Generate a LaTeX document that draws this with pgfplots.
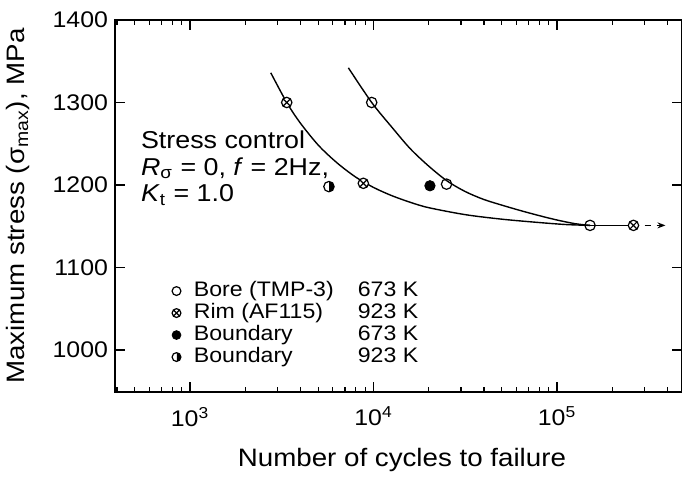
\documentclass[border=0pt]{standalone}
\usepackage{pgfplots}
\pgfplotsset{compat=1.18}
\usepackage{fontspec}
\setmainfont{Liberation Sans}[FakeStretch=1.1]
\usetikzlibrary{arrows.meta}
\begin{document}
\begin{tikzpicture}
\begin{axis}[
  scale only axis, width=283.5pt, height=186pt,
  xmode=log, xmin=390, xmax=4.8e5, ymin=949, ymax=1400,
  xtick={1e3,1e4,1e5},
  xticklabels={10\textsuperscript{3},10\textsuperscript{4},10\textsuperscript{5}},
  minor xtick={400,500,600,700,800,900,2000,3000,4000,5000,6000,7000,8000,9000,
    20000,30000,40000,50000,60000,70000,80000,90000,200000,300000,400000},
  ytick={1000,1100,1200,1300,1400},
  axis line style={line width=0.9pt},
  tick style={line width=0.6pt, black},
  major tick length=5pt, minor tick length=2.5pt,
  yticklabel style={/pgf/number format/assume math mode=true,
    /pgf/number format/1000 sep={}, font=\fontsize{11.3}{13}\selectfont},
  xticklabel style={font=\fontsize{11.3}{13}\selectfont},
  xticklabel shift=4pt,
  xlabel={Number of cycles to failure},
  ylabel={Maximum stress (σ\textsubscript{max}), MPa},
  xlabel style={at={(axis description cs:0.506,-0.183)}, anchor=center},
  ylabel style={at={(axis description cs:-0.171,0.5)}, anchor=center},
  label style={font=\fontsize{12.6}{15}\selectfont},
  legend style={at={(rel axis cs:0.1,0.302)}, anchor=north west,
    draw=none, fill=none, inner sep=0pt, row sep=0pt,
    font=\fontsize{10.5}{12}\selectfont,
    nodes={inner sep=0.5pt, text height=7.7pt, text depth=2.3pt},
    /tikz/every odd column/.append style={column sep=6pt}},
  legend cell align=left,
  legend image code/.code={\draw[#1, mark size=2.2pt] plot coordinates {(2.5pt,0pt)};},
]
% fitted curves
\addplot[forget plot, smooth, line width=0.7pt] coordinates {
  (2754,1336) (3365,1300) (3981,1275.4) (5012,1248) (6310,1227) (7943,1210)
  (10000,1197) (12589,1187) (15849,1179) (19953,1172.5) (31623,1164)
  (50119,1158.5) (79433,1154.5) (112202,1152) (151356,1151)};
\addplot[forget plot, smooth, line width=0.7pt] coordinates {
  (7295,1342) (9772,1300) (12589,1270) (15849,1244) (19953,1223) (25119,1205)
  (31623,1192) (39811,1182.5) (50119,1175.5) (63096,1169) (79433,1163)
  (100000,1157.5) (125893,1153) (151356,1151)};
\addplot[forget plot, line width=0.7pt] coordinates {(151356,1151) (261000,1151)};
\addplot[forget plot, line width=0.7pt, dashed, -{Stealth[length=4pt]}] coordinates {(300000,1151) (390000,1151)};
% data
\addplot[only marks, mark=o, mark size=2.6pt, line width=0.6pt, mark options={fill=white}] coordinates {
  (9772,1300) (25000,1201) (151356,1151)};
\addplot[only marks, mark=otimes*, mark size=2.6pt, line width=0.6pt, mark options={fill=white}] coordinates {
  (3365,1300) (8800,1202) (261000,1151)};
\addplot[only marks, mark=*, mark size=2.6pt, fill=black] coordinates {(20300,1199)};
\addplot[only marks, mark=halfcircle*, mark size=2.6pt, line width=0.6pt, mark options={fill=black, rotate=-90}] coordinates {(5715,1198)};
\legend{\makebox[82pt][l]{Bore (TMP-3)}673 K,
  \makebox[82pt][l]{Rim (AF115)}923 K,
  \makebox[82pt][l]{Boundary}673 K,
  \makebox[82pt][l]{Boundary}923 K}
\node[anchor=base west, font=\fontsize{12.2}{14}\selectfont] at (axis cs:495,1244.5) {Stress control};
\node[anchor=base west, font=\fontsize{12.2}{14}\selectfont] at (axis cs:495,1212) {\textit{R}\textsubscript{σ} = 0, \textit{f} = 2Hz,};
\node[anchor=base west, font=\fontsize{12.2}{14}\selectfont] at (axis cs:495,1179.8) {\textit{K}\textsubscript{t} = 1.0};
\end{axis}
\pgfresetboundingbox
\useasboundingbox ([shift={(-57.5pt,-42.5pt)}]current axis.south west) rectangle ([shift={(0pt,10pt)}]current axis.north east);
\end{tikzpicture}
\end{document}
